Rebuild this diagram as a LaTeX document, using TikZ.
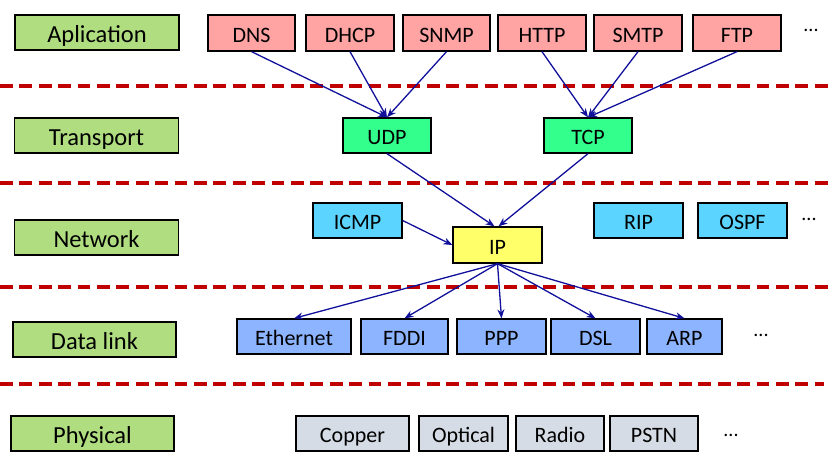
\documentclass[tikz,border=0pt]{standalone}
\usepackage{fontspec}
\setmainfont{Carlito}
\usetikzlibrary{arrows.meta}
\definecolor{layergreen}{RGB}{176,221,128}
\definecolor{apppink}{RGB}{255,163,163}
\definecolor{transgreen}{RGB}{51,255,140}
\definecolor{netcyan}{RGB}{91,212,255}
\definecolor{ipyellow}{RGB}{255,255,106}
\definecolor{linkblue}{RGB}{141,180,255}
\definecolor{physgray}{RGB}{214,220,229}
\definecolor{sepred}{RGB}{192,0,0}
\definecolor{arrowblue}{RGB}{16,16,154}
\tikzset{
  box/.style={draw=black, line width=1.3pt, inner sep=0pt, minimum height=35pt,
    text height=18.4pt, text depth=0pt, font=\fontsize{22}{24}\selectfont},
  layerbox/.style={box, fill=layergreen, minimum width=164pt, text height=19.6pt,
    font=\fontsize{24.5}{27}\selectfont},
  appbox/.style={box, fill=apppink, minimum width=88pt, minimum height=36pt},
  transbox/.style={box, fill=transgreen, minimum width=88pt},
  netbox/.style={box, fill=netcyan, minimum width=89pt},
  ipbox/.style={box, fill=ipyellow, minimum width=89pt, minimum height=36pt},
  linkbox/.style={box, fill=linkblue},
  physbox/.style={box, fill=physgray},
  dotsnode/.style={inner sep=0pt, anchor=base, font=\fontsize{20}{22}\selectfont},
  sep/.style={draw=sepred, line width=3.8pt, dash pattern=on 12.7pt off 6.7pt},
  conn/.style={draw=arrowblue, line width=1.3pt, -{Stealth[length=9pt,width=7pt]}}
}
\begin{document}
\begin{tikzpicture}[x=1pt,y=-1pt]
\useasboundingbox (0,0) rectangle (834,455);
% separators
\draw[sep] (0,86) -- (834,86);
\draw[sep] (0,183) -- (834,183);
\draw[sep] (0,287) -- (834,287);
\draw[sep] (0,384) -- (824,384);
% layer labels
\node[layerbox] (lapp) at (97,32.5) {Aplication};
\node[layerbox] (ltrans) at (96.5,135.5) {Transport};
\node[layerbox] (lnet) at (96.5,237.5) {Network};
\node[layerbox, minimum width=163pt] (llink) at (94.5,339.5) {Data link};
\node[layerbox, minimum width=163pt] (lphys) at (92.5,433.5) {Physical};
% application
\node[appbox, minimum width=87pt] (dns) at (251.5,33) {DNS};
\node[appbox] (dhcp) at (350,33) {DHCP};
\node[appbox, minimum width=87pt] (snmp) at (446.5,33) {SNMP};
\node[appbox] (http) at (542,33) {HTTP};
\node[appbox] (smtp) at (638,33) {SMTP};
\node[appbox] (ftp) at (737,33) {FTP};
\node[dotsnode] (appdots) at (811,31) {...};
% transport
\node[transbox] (udp) at (387,135.5) {UDP};
\node[transbox] (tcp) at (588,135.5) {TCP};
% network
\node[netbox] (icmp) at (357.5,220.5) {ICMP};
\node[ipbox] (ip) at (497.5,245) {IP};
\node[netbox] (rip) at (638.5,220.5) {RIP};
\node[netbox] (ospf) at (742.5,220.5) {OSPF};
\node[dotsnode] (netdots) at (809,220) {...};
% data link
\node[linkbox, minimum width=114pt] (eth) at (294,336.5) {Ethernet};
\node[linkbox, minimum width=87pt] (fddi) at (404.5,336.5) {FDDI};
\node[linkbox, minimum width=89pt] (ppp) at (501.5,336.5) {PPP};
\node[linkbox, minimum width=89pt] (dsl) at (595.5,336.5) {DSL};
\node[linkbox, minimum width=75pt] (arp) at (684.5,336.5) {ARP};
\node[dotsnode] (linkdots) at (761,336) {...};
% physical
\node[physbox, minimum width=113pt] (copper) at (352.5,433.5) {Copper};
\node[physbox, minimum width=89pt] (optical) at (463.5,433.5) {Optical};
\node[physbox, minimum width=88pt] (radio) at (560,433.5) {Radio};
\node[physbox, minimum width=88pt] (pstn) at (654,433.5) {PSTN};
\node[dotsnode] (physdots) at (731,436) {...};
% connectors
\draw[conn] (dns.south) -- (udp.north);
\draw[conn] (dhcp.south) -- (udp.north);
\draw[conn] (snmp.south) -- (udp.north);
\draw[conn] (http.south) -- (tcp.north);
\draw[conn] (smtp.south) -- (tcp.north);
\draw[conn] (ftp.south) -- (tcp.north);
\draw[conn] (udp.south) -- ([xshift=-3pt]ip.north);
\draw[conn] (tcp.south) -- ([xshift=1pt]ip.north);
\draw[conn] (icmp.east) -- (ip.west);
\draw[conn] (ip.south) -- (eth.north);
\draw[conn] (ip.south) -- (fddi.north);
\draw[conn] (ip.south) -- (ppp.north);
\draw[conn] (ip.south) -- (dsl.north);
\draw[conn] (ip.south) -- (arp.north);
\end{tikzpicture}
\end{document}
